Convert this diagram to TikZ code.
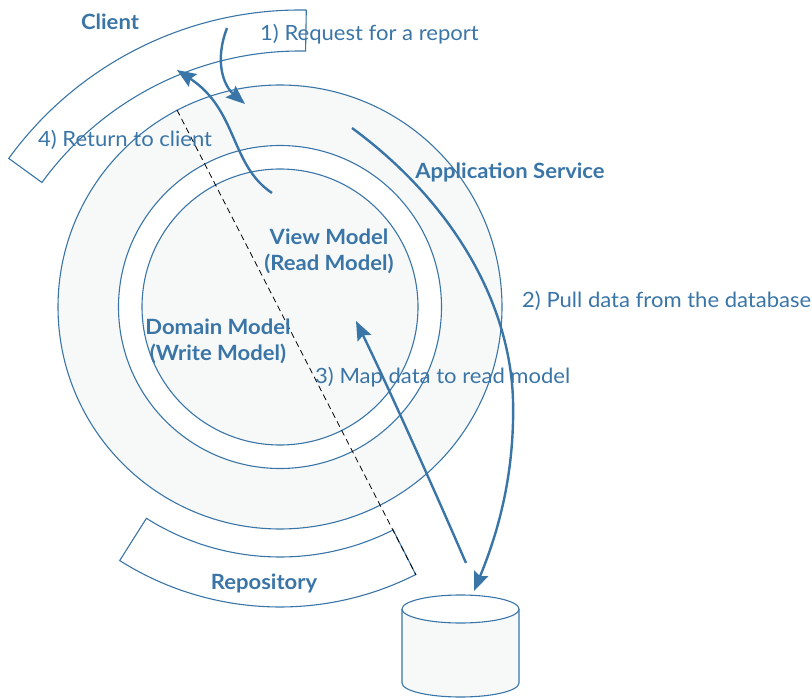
\documentclass[tikz,border=0pt]{standalone}
\usepackage{fontspec}
\setmainfont{Lato}[FakeStretch=1.05]
\usetikzlibrary{arrows.meta}
\definecolor{dblue}{RGB}{58,117,168}
\definecolor{lfill}{HTML}{F7F9F9}
\tikzset{
  ring/.style={draw=dblue, line width=1.1pt},
  flow/.style={draw=dblue, line width=2.4pt, -{Stealth[length=19pt,width=15pt,inset=3pt]}},
  lbl/.style={text=dblue, font=\fontsize{21}{24}\selectfont, anchor=west, inner sep=0pt},
  blbl/.style={text=dblue, font=\fontsize{21}{24}\selectfont\bfseries, inner sep=0pt, align=center},
}
\begin{document}
\begin{tikzpicture}[x=1pt,y=-1pt]
\useasboundingbox (0,0) rectangle (812,698);
\coordinate (C) at (280,307);
\coordinate (K) at (300,370);
% circles
\fill[lfill] (C) circle[radius=222pt];
\fill[white] (C) circle[radius=161.5pt];
\fill[lfill] (C) circle[radius=138pt];
\draw[ring] (C) circle[radius=222pt];
\draw[ring] (C) circle[radius=161.5pt];
\draw[ring] (C) circle[radius=138pt];
% client arc
\draw[ring, fill=white] ([shift={(89:360pt)}]K) arc[start angle=89,end angle=144,radius=360pt]
  -- ([shift={(144:319pt)}]K) arc[start angle=144,end angle=89,radius=319pt] -- cycle;
% repository arc
\draw[ring, fill=white] ([shift={(237.7:300pt)}]C) arc[start angle=237.7,end angle=296.9,radius=300pt]
  -- ([shift={(296.9:250pt)}]C) arc[start angle=296.9,end angle=237.7,radius=250pt] -- cycle;
% dashed line
\coordinate (d1) at (177,110);
\coordinate (d2) at (416,575);
\draw[black, line width=0.8pt, dash pattern=on 6pt off 4pt] (d1) -- (d2);
% database
\coordinate (dbtop) at (460.5,609);
\coordinate (dbl) at (402,609);
\coordinate (dbr) at (519,609);
\draw[ring, fill=lfill] (dbl) -- (402,683) arc[start angle=180,end angle=360,x radius=58.5pt,y radius=14pt] -- (dbr);
\draw[ring, fill=white] (dbtop) ellipse[x radius=58.5pt, y radius=14pt];
% labels
\node[blbl] (client) at (110,22) {Client};
\node[lbl] (req) at (260,34) {1) Request for a report};
\node[lbl] (ret) at (38,140) {4) Return to client};
\node[blbl] (app) at (510,172) {Application Service};
\node[blbl] (view) at (329,251) {View Model\\[2pt](Read Model)};
\node[blbl] (dom) at (218,341) {Domain Model\\[2pt](Write Model)};
\node[lbl] (pull) at (522,301) {2) Pull data from the database};
\node[lbl] (map) at (315,377) {3) Map data to read model};
\node[blbl] (repo) at (264,583) {Repository};
% arrows
\coordinate (r1) at (227,28);
\coordinate (r2) at (245,104);
\draw[flow] (r1) .. controls (214,62) and (224,86) .. (r2);
\coordinate (t1) at (272,193);
\coordinate (t2) at (177,70);
\draw[flow] (t1) .. controls (230,165) and (238,110) .. (t2);
\coordinate (p1) at (352,128);
\coordinate (p2) at (513,400);
\coordinate (p3) at (474,591);
\draw[flow] (p1) .. controls (450,200) and (510,300) .. (p2) .. controls (515,480) and (495,540) .. (p3);
\coordinate (m1) at (466,563);
\coordinate (m2) at (356,321);
\draw[flow] (m1) .. controls (430,480) and (385,380) .. (m2);
\end{tikzpicture}
\end{document}
